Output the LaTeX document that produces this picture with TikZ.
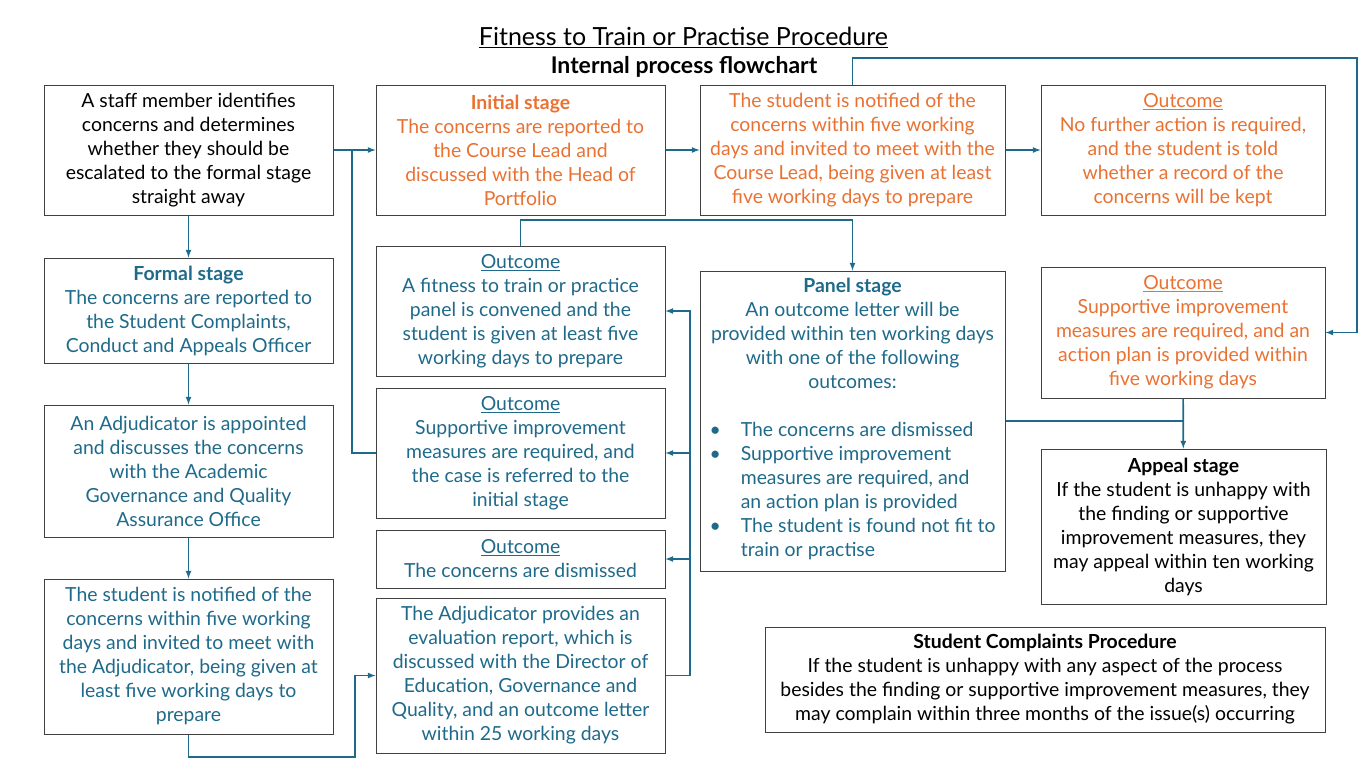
\documentclass[tikz,border=0pt]{standalone}
\usepackage{fontspec}
\setmainfont{Lato}
\definecolor{flowblue}{HTML}{1F6A8A}
\definecolor{floworange}{HTML}{E97132}
\definecolor{boxgray}{HTML}{404040}
\begin{document}
\begin{tikzpicture}[x=1pt,y=-1pt,>=latex,
	box/.style={draw=boxgray,line width=1pt,align=center,inner sep=0pt,font=\fontsize{19.4}{24}\selectfont},
	link/.style={draw=flowblue,line width=1.6pt}]
	\useasboundingbox (0,0) rectangle (1368,769);
	
	\node (title) at (683.5,37) {\fontsize{25}{28}\selectfont\underline{Fitness to Train or Practise Procedure}};
	\node (subtitle) at (684,67) {\fontsize{23}{26}\selectfont\textbf{Internal process flowchart}};
	
	% top row
	\node [box,minimum width=289,minimum height=130] (staff) at (188.5,150) {A staff member identifies\\concerns and determines\\whether they should be\\escalated to the formal stage\\straight away};
	\node [box,text=floworange,minimum width=289,minimum height=130] (initial) at (520.5,150) {\textbf{Initial stage}\\The concerns are reported to\\the Course Lead and\\discussed with the Head of\\Portfolio};
	\node [box,text=floworange,minimum width=305,minimum height=130] (notifyA) at (852.5,150) {The student is notified of the\\concerns within five working\\days and invited to meet with the\\Course Lead, being given at least\\five working days to prepare};
	\node [box,text=floworange,minimum width=284,minimum height=130] (outNone) at (1183,150) {\underline{Outcome}\\No further action is required,\\and the student is told\\whether a record of the\\concerns will be kept};
	
	% formal stage column
	\node [box,text=flowblue,minimum width=289,minimum height=105] (formal) at (188.5,310.5) {\textbf{Formal stage}\\The concerns are reported to\\the Student Complaints,\\Conduct and Appeals Officer};
	\node [box,text=flowblue,minimum width=289,minimum height=132] (appoint) at (188.5,471) {An Adjudicator is appointed\\and discusses the concerns\\with the Academic\\Governance and Quality\\Assurance Office};
	\node [box,text=flowblue,minimum width=289,minimum height=155] (notifyB) at (188.5,656.5) {The student is notified of the\\concerns within five working\\days and invited to meet with\\the Adjudicator, being given at\\least five working days to\\prepare};
	
	% outcomes of the formal stage
	\node [box,text=flowblue,minimum width=289,minimum height=130] (outPanel) at (520.5,311) {\underline{Outcome}\\A fitness to train or practice\\panel is convened and the\\student is given at least five\\working days to prepare};
	\node [box,text=flowblue,minimum width=289,minimum height=130] (outRefer) at (520.5,453) {\underline{Outcome}\\Supportive improvement\\measures are required, and\\the case is referred to the\\initial stage};
	\node [box,text=flowblue,minimum width=289,minimum height=58] (outDismiss) at (520.5,559) {\underline{Outcome}\\The concerns are dismissed};
	\node [box,text=flowblue,minimum width=289,minimum height=155] (report) at (520.5,675.5) {The Adjudicator provides an\\evaluation report, which is\\discussed with the Director of\\Education, Governance and\\Quality, and an outcome letter\\within 25 working days};
	
	% panel, appeal and complaints
	\node [box,text=flowblue,minimum width=305,minimum height=300] (panel) at (852.5,421) {\textbf{Panel stage}\\An outcome letter will be\\provided within ten working days\\with one of the following\\outcomes:\\[24pt]
		\begin{tabular}[t]{@{}l@{\hspace{20pt}}l@{}}
			\textbullet & The concerns are dismissed\\
			\textbullet & Supportive improvement\\
			& measures are required, and\\
			& an action plan is provided\\
			\textbullet & The student is found not fit to\\
			& train or practise
		\end{tabular}};
	\node [box,text=floworange,minimum width=284,minimum height=131] (outSupport) at (1183,332.5) {\underline{Outcome}\\Supportive improvement\\measures are required, and an\\action plan is provided within\\five working days};
	\node [box,minimum width=285,minimum height=155] (appeal) at (1183.5,526.5) {\textbf{Appeal stage}\\If the student is unhappy with\\the finding or supportive\\improvement measures, they\\may appeal within ten working\\days};
	\node [box,minimum width=560,minimum height=105] (complaints) at (1045,679.5) {\textbf{Student Complaints Procedure}\\If the student is unhappy with any aspect of the process\\besides the finding or supportive improvement measures, they\\may complain within three months of the issue(s) occurring};
	
	\coordinate (joinL) at (352,150);
	\coordinate (topR) at (1357,58);
	\coordinate (overPanel) at (700,220);
	\coordinate (botL) at (355,757);
	\coordinate (busR) at (690,311);
	
	% connectors
	\draw [link,->] (staff) -- (initial);
	\draw [link] (outRefer.west) -| (joinL);
	\draw [link,->] (initial) -- (notifyA);
	\draw [link,->] (notifyA) -- (outNone);
	\draw [link,->] (notifyA.north) |- (topR) |- (outSupport.east);
	\draw [link,->] (outPanel.north) |- (overPanel) -| (panel.north);
	\draw [link] (panel.east) -- (panel.east -| appeal.north);
	\draw [link,->] (outSupport) -- (appeal);
	
	\draw [link,->] (staff) -- (formal);
	\draw [link,->] (formal) -- (appoint);
	\draw [link,->] (appoint) -- (notifyB);
	\draw [link,->] (notifyB.south) |- (botL) |- (report.west);
	\draw [link,->] (report.east) -| (busR) -- (outPanel.east);
	\draw [link,->] (busR |- outRefer.east) -- (outRefer.east);
	\draw [link,->] (busR |- outDismiss.east) -- (outDismiss.east);
\end{tikzpicture}
\end{document}
